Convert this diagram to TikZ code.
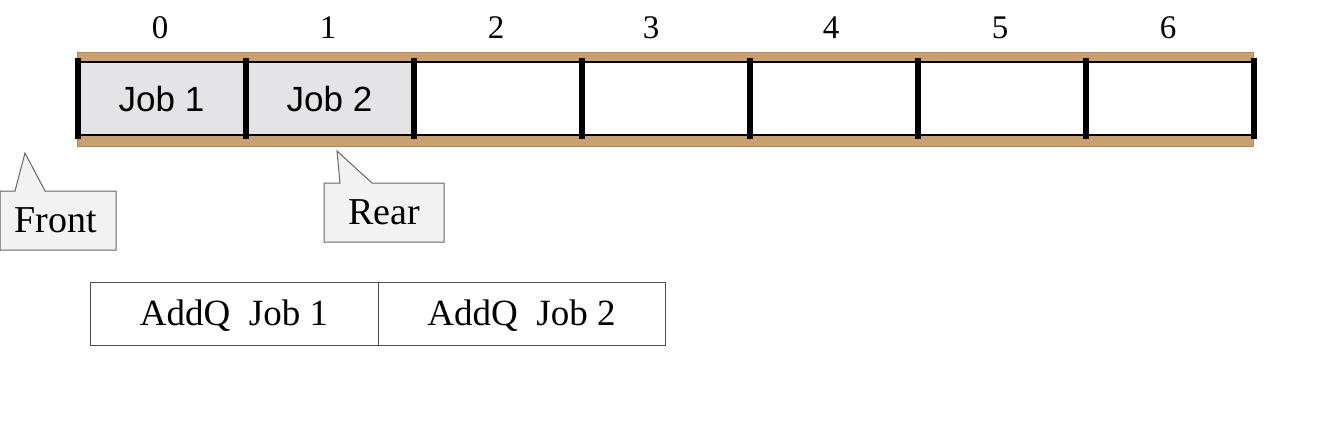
\documentclass[tikz,border=0pt]{standalone}
\usepackage{fontspec}
\setmainfont{Liberation Serif}
\setsansfont{Liberation Sans}
\usepackage{tikz}
\definecolor{railtan}{RGB}{200,160,114}
\definecolor{marble}{RGB}{228,228,230}
\definecolor{tipgray}{RGB}{242,242,242}

\begin{document}
\begin{tikzpicture}[x=0.5pt,y=-0.5pt]
  \tikzstyle{every node}=[inner sep=0pt, outer sep=0pt]
  \tikzstyle{rail}=[fill=railtan, draw=railtan!85!black, line width=0.3pt]
  \tikzstyle{slot}=[minimum width=84pt, minimum height=36.5pt]
  \tikzstyle{bar}=[line width=3pt]
  \tikzstyle{idx}=[font=\fontsize{16.5}{19}\selectfont]
  \tikzstyle{job}=[font=\sffamily\fontsize{17.5}{20}\selectfont]
  \tikzstyle{tip}=[fill=tipgray, draw=black!60, line width=0.5pt]
  \tikzstyle{tiptext}=[font=\fontsize{19}{22}\selectfont]
  \tikzstyle{op}=[draw=black!70, line width=0.5pt, minimum height=31.5pt, text depth=1pt, font=\fontsize{18.5}{22}\selectfont]
  \useasboundingbox (0,0) rectangle (1326,424);

  % queue slots
  \foreach \i in {0,...,6}
    \node[slot] (c\i) at ({161.5+168*\i},98.5) {};
  \fill[marble] (c0.north west) rectangle (c1.south east);
  \node[job] (job1) at (c0) {Job 1};
  \node[job] (job2) at (c1) {Job 2};

  % rails
  \draw[rail] (77,52) rectangle (1253,62);
  \draw[rail] (77,135) rectangle (1253,146);
  \draw[line width=1.4pt] (c0.north west) -- (c6.north east);
  \draw[line width=1.4pt] (c0.south west) -- (c6.south east);
  \foreach \i in {0,...,6}
    \draw[bar] ([yshift=2pt]c\i.north west) -- ([yshift=-2pt]c\i.south west);
  \draw[bar] ([yshift=2pt]c6.north east) -- ([yshift=-2pt]c6.south east);

  % indices
  \foreach \i/\x in {0/160,1/328,2/496,3/651,4/831,5/1000,6/1168}
    \node[idx] (n\i) at (\x,28) {\i};

  % front and rear pointers
  \coordinate (fronttip) at (25,153);
  \coordinate (reartip) at (337,151);
  \draw[tip] (0,191) -- (15,191) -- (fronttip) -- (45,191) -- (116,191)
    -- (116,250) -- (0,250) -- cycle;
  \node[tiptext] (front) at (56,220) {Front};
  \draw[tip] (324,183) -- (340,183) -- (reartip) -- (372,183) -- (444,183)
    -- (444,242) -- (324,242) -- cycle;
  \node[tiptext] (rear) at (384,212) {Rear};

  % operations
  \node[op, minimum width=144pt] (add1) at (234,313.5) {AddQ\ \ Job 1};
  \node[op, minimum width=143.5pt, anchor=west] (add2) at (add1.east) {AddQ\ \ Job 2};
\end{tikzpicture}
\end{document}
